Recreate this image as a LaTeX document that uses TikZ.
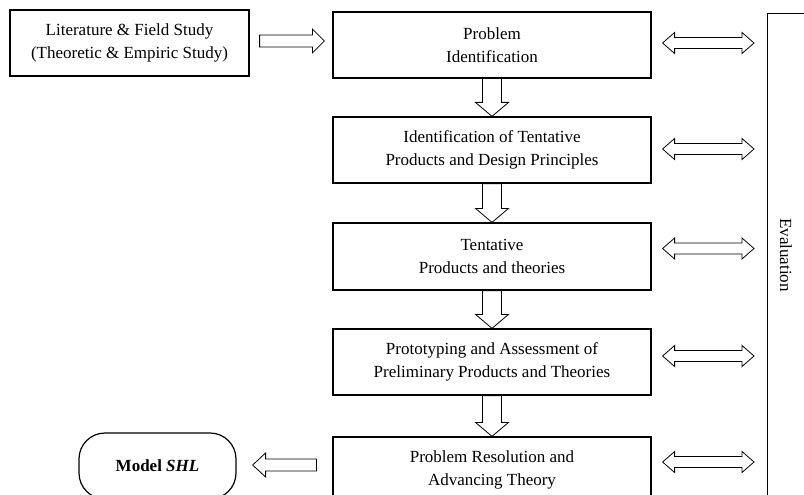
\documentclass[tikz,border=0pt]{standalone}
\usepackage{fontspec}
\setmainfont{Liberation Serif}
\usetikzlibrary{calc}
\tikzset{
  stepbox/.style={draw, line width=1.2pt, rectangle, align=center, inner sep=2pt,
    font=\fontsize{17}{23}\selectfont},
  modelbox/.style={draw, line width=1.2pt, rounded corners=26pt, align=center,
    font=\fontsize{17}{23}\selectfont\bfseries},
  evalbox/.style={draw, line width=1.4pt, rectangle},
  arrowline/.style={draw, line width=0.8pt, fill=white, line join=miter},
}
\newcommand\singlearrow[5]{%
  \draw[arrowline] let \p1=(#1), \p2=(#2),
    \n1={atan2(\y2-\y1,\x2-\x1)}, \n2={veclen(\x2-\x1,\y2-\y1)} in
    [shift={(\x1,\y1)}, rotate=\n1]
    (0,-#3) -- (\n2-#5,-#3) -- (\n2-#5,-#4) -- (\n2,0) -- (\n2-#5,#4) -- (\n2-#5,#3) -- (0,#3) -- cycle;}
\newcommand\doublearrow[5]{%
  \draw[arrowline] let \p1=(#1), \p2=(#2),
    \n1={atan2(\y2-\y1,\x2-\x1)}, \n2={veclen(\x2-\x1,\y2-\y1)} in
    [shift={(\x1,\y1)}, rotate=\n1]
    (#5,-#3) -- (\n2-#5,-#3) -- (\n2-#5,-#4) -- (\n2,0) -- (\n2-#5,#4) -- (\n2-#5,#3)
    -- (#5,#3) -- (#5,#4) -- (0,0) -- (#5,-#4) -- cycle;}
\begin{document}
\begin{tikzpicture}[x=1pt,y=-1pt]
\clip (0,0) rectangle (804,495);
\fill[white] (0,0) rectangle (804,495);

\node[stepbox, minimum width=239pt, minimum height=66pt] (lit) at (129.5,43)
  {Literature \& Field Study\\(Theoretic \& Empiric Study)};
\node[stepbox, minimum width=318pt, minimum height=66pt] (p1) at (492,45)
  {Problem\\Identification};
\node[stepbox, minimum width=318pt, minimum height=66pt] (p2) at (492,150)
  {Identification of Tentative\\Products and Design Principles};
\node[stepbox, minimum width=318pt, minimum height=67pt] (p3) at (492,256.5)
  {Tentative\\Products and theories};
\node[stepbox, minimum width=318pt, minimum height=66pt] (p4) at (492,362)
  {Prototyping and Assessment of\\Preliminary Products and Theories};
\node[stepbox, minimum width=318pt, minimum height=66pt] (p5) at (492,470)
  {Problem Resolution and\\Advancing Theory};
\node[modelbox, minimum width=157pt, minimum height=66pt] (model) at (157.5,466)
  {Model \textit{SHL}};
\node[evalbox, minimum width=80pt, minimum height=520pt, anchor=north west] (eval) at (767,13) {};
\node[rotate=-90, font=\fontsize{17}{23}\selectfont] (evaltext) at (786,255) {Evaluation};

% horizontal flow
\singlearrow{$(lit.east)+(10,-2)$}{$(lit.east -| p1.west)+(-8,-2)$}{6}{12}{12}
% down arrows
\singlearrow{p1.south}{p2.north}{9.5}{16.5}{14}
\singlearrow{p2.south}{p3.north}{9.5}{16.5}{14}
\singlearrow{p3.south}{p4.north}{9.5}{16.5}{14}
\singlearrow{p4.south}{p5.north}{9.5}{16.5}{14}
% to model
\singlearrow{$(p5.west |- model.east)+(-16,-1)$}{$(model.east)+(16,-1)$}{6}{12}{13}
% double arrows to evaluation
\doublearrow{$(p1.east)+(11,-2)$}{$(p1.east -| eval.west)+(-13,-2)$}{5.5}{10.5}{12}
\doublearrow{$(p2.east)+(11,-1)$}{$(p2.east -| eval.west)+(-13,-1)$}{5.5}{10.5}{12}
\doublearrow{$(p3.east)+(11,-8)$}{$(p3.east -| eval.west)+(-13,-8)$}{5.5}{10.5}{12}
\doublearrow{$(p4.east)+(11,-6)$}{$(p4.east -| eval.west)+(-13,-6)$}{5.5}{10.5}{12}
\doublearrow{$(p5.east)+(11,-8)$}{$(p5.east -| eval.west)+(-13,-8)$}{5.5}{10.5}{12}
\end{tikzpicture}
\end{document}
